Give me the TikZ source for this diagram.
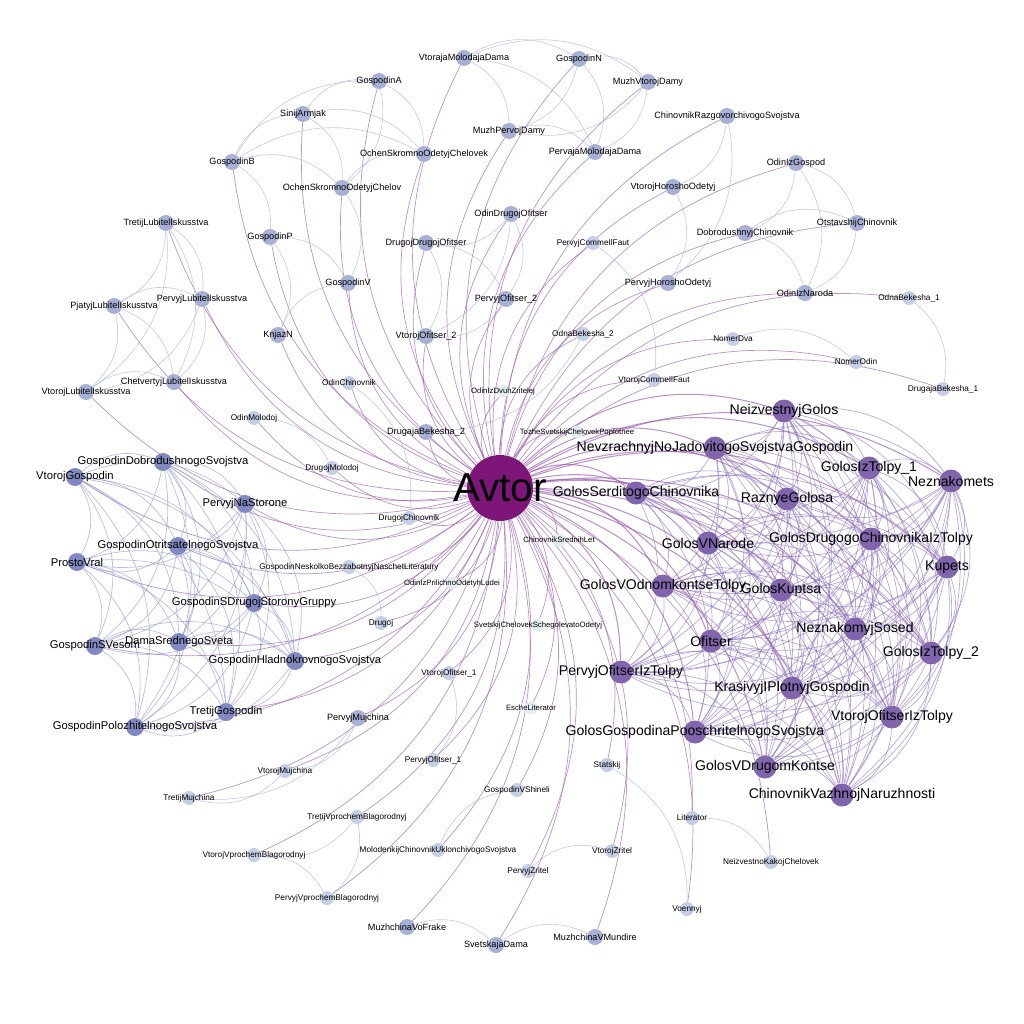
\documentclass[tikz,border=0pt]{standalone}
\usepackage{fontspec}
\setmainfont{Liberation Sans}
\usetikzlibrary{backgrounds}

\definecolor{avtorc}{RGB}{126,22,122}
\definecolor{purplec}{RGB}{128,101,172}
\definecolor{bluec}{RGB}{129,137,192}
\definecolor{mediumc}{RGB}{168,176,213}
\definecolor{lightc}{RGB}{198,206,230}
\definecolor{palec}{RGB}{226,237,242}
\definecolor{avedgec}{RGB}{150,90,168}
\definecolor{puedgec}{RGB}{140,112,186}
\definecolor{bledgec}{RGB}{128,138,198}
\definecolor{ltedgec}{RGB}{170,178,220}

\newcommand\purplegroup{ngol,nevz,gtI,nezn,gsch,razn,gvn,gdch,kup,gvo,gkup,nsos,ofi,gtII,poit,kpg,voit,ggps,gvdk,cvn}
\newcommand\bluegroup{vgos,gdob,pns,gotr,pvral,gsdr,gsv,dss,ghl,tgos,gpol}

\begin{document}
\begin{tikzpicture}[x=0.02cm, y=-0.02cm,
    dot/.style={circle, draw=none, inner sep=0pt},
    txt/.style={inner sep=0pt, text=black},
    av/.style={dot, fill=avtorc, minimum size=1.32cm,
               label={[txt, font=\fontsize{23}{23}\selectfont]center:#1}},
    pu/.style={dot, fill=purplec, minimum size=0.46cm,
               label={[txt, font=\fontsize{8}{8}\selectfont]center:#1}},
    bl/.style={dot, fill=bluec, minimum size=0.36cm,
               label={[txt, font=\fontsize{6.4}{6.4}\selectfont]center:#1}},
    md/.style={dot, fill=mediumc, minimum size=0.32cm,
               label={[txt, font=\fontsize{5.2}{5.2}\selectfont]center:#1}},
    lt/.style={dot, fill=lightc, minimum size=0.28cm,
               label={[txt, font=\fontsize{4.7}{4.7}\selectfont]center:#1}},
    pl/.style={dot, fill=palec, minimum size=0.26cm,
               label={[txt, font=\fontsize{4.4}{4.4}\selectfont]center:#1}},
    avedge/.style={draw=avedgec, line width=0.4pt, opacity=0.65},
    puedge/.style={draw=puedgec, line width=0.4pt, opacity=0.6},
    bledge/.style={draw=bledgec, line width=0.4pt, opacity=0.55},
    ltedge/.style={draw=ltedgec, line width=0.35pt, opacity=0.7}
]
    \useasboundingbox (0,0) rectangle (1024,1024);

    % Upper left
    \node[md=SinijArmjak] (sarm) at (303,114) {};
    \node[md=GospodinB] (gb) at (232,162) {};
    \node[md=OchenSkromnoOdetyjChelov] (ochA) at (342,188) {};
    \node[md=GospodinA] (ga) at (379,81) {};
    \node[md=OchenSkromnoOdetyjChelovek] (ochB) at (424,154) {};
    \node[md=GospodinP] (gp) at (270,237) {};
    \node[md=GospodinV] (gv) at (348,283) {};
    \node[md=KnjazN] (knj) at (278,335) {};
    \node[md=TretijLubitelIskusstva] (tli) at (166,223) {};
    \node[md=PjatyjLubitelIskusstva] (pjli) at (114,306) {};
    \node[md=PervyjLubitelIskusstva] (pli) at (202,299) {};
    \node[md=VtorojLubitelIskusstva] (vli) at (86,392) {};
    \node[md=ChetvertyjLubitelIskusstva] (cli) at (174,382) {};

    % Top
    \node[md=VtorajaMolodajaDama] (vmd) at (464,58) {};
    \node[md=GospodinN] (gn) at (579,59) {};
    \node[md=MuzhVtorojDamy] (mvd) at (648,82) {};
    \node[md=MuzhPervojDamy] (mpd) at (509,131) {};
    \node[md=PervajaMolodajaDama] (pmd) at (595,152) {};
    \node[md=OdinDrugojOfitser] (odo) at (511,214) {};
    \node[md=DrugojDrugojOfitser] (ddo) at (426,243) {};
    \node[md=PervyjOfitser\_2] (poII) at (506,299) {};
    \node[md=VtorojOfitser\_2] (voII) at (426,336) {};
    \node[lt=PervyjCommeIlFaut] (pcf) at (593,243) {};
    \node[lt=OdnaBekesha\_2] (obII) at (583,334) {};

    % Upper right
    \node[md=ChinovnikRazgovorchivogoSvojstva] (crs) at (727,116) {};
    \node[md=VtorojHoroshoOdetyj] (vho) at (673,187) {};
    \node[md=PervyjHoroshoOdetyj] (pho) at (668,283) {};
    \node[md=OdinIzGospod] (oig) at (796,163) {};
    \node[md=DobrodushnyjChinovnik] (dch) at (745,233) {};
    \node[md=OtstavshijChinovnik] (och) at (857,223) {};
    \node[md=OdinIzNaroda] (oin) at (805,293) {};
    \node[lt=OdnaBekesha\_1] (obI) at (909,298) {};
    \node[lt=NomerDva] (ndva) at (733,339) {};
    \node[lt=NomerOdin] (nodin) at (856,362) {};
    \node[lt=DrugajaBekesha\_1] (dbI) at (943,389) {};
    \node[lt=VtorojCommeIlFaut] (vcf) at (654,380) {};

    % Around the centre
    \node[lt=OdinChinovnik] (odch) at (349,383) {};
    \node[lt=OdinMolodoj] (omol) at (254,418) {};
    \node[lt=DrugojMolodoj] (dmol) at (332,468) {};
    \node[md=DrugajaBekesha\_2] (dbII) at (426,432) {};
    \node[lt=DrugojChinovnik] (drch) at (409,518) {};
    \node[lt=GospodinNeskolkoBezzabotnyjNaschetLiteratury] (gnb) at (349,567) {};
    \node[lt=Drugoj] (drg) at (381,623) {};
    \node[pl=OdinIzDvuhZritelej] (oidz) at (503,391) {};
    \node[pl=TozheSvetskijChelovekPoplotnee] (tsc) at (577,432) {};
    \node[pl=ChinovnikSrednihLet] (csl) at (559,540) {};
    \node[pl=OdinIzPrilichnoOdetyhLudei] (ipol) at (452,583) {};
    \node[pl=SvetskijChelovekSchegolevatoOdetyj] (ssch) at (538,625) {};
    \node[pl=EscheLiterator] (eslit) at (531,708) {};

    % Left group
    \node[bl=VtorojGospodin] (vgos) at (75,477) {};
    \node[bl=GospodinDobrodushnogoSvojstva] (gdob) at (163,462) {};
    \node[bl=PervyjNaStorone] (pns) at (245,504) {};
    \node[bl=GospodinOtritsatelnogoSvojstva] (gotr) at (178,546) {};
    \node[bl=ProstoVral] (pvral) at (77,562) {};
    \node[bl=GospodinSDrugojStoronyGruppy] (gsdr) at (254,603) {};
    \node[bl=GospodinSVesom] (gsv) at (95,646) {};
    \node[bl=DamaSrednegoSveta] (dss) at (179,642) {};
    \node[bl=GospodinHladnokrovnogoSvojstva] (ghl) at (295,661) {};
    \node[bl=TretijGospodin] (tgos) at (226,712) {};
    \node[bl=GospodinPolozhitelnogoSvojstva] (gpol) at (135,727) {};

    % Bottom
    \node[lt=VtorojOfitser\_1] (voI) at (449,673) {};
    \node[md=PervyjMujchina] (pmu) at (358,718) {};
    \node[lt=PervyjOfitser\_1] (poI) at (433,760) {};
    \node[lt=VtorojMujchina] (vmu) at (285,771) {};
    \node[lt=TretijMujchina] (tmu) at (189,798) {};
    \node[lt=TretijVprochemBlagorodnyj] (tvb) at (357,817) {};
    \node[lt=VtorojVprochemBlagorodnyj] (vvb) at (254,855) {};
    \node[lt=PervyjVprochemBlagorodnyj] (pvb) at (327,898) {};
    \node[lt=MolodenkijChinovnikUklonchivogoSvojstva] (mch) at (438,850) {};
    \node[lt=GospodinVShineli] (gvs) at (517,790) {};
    \node[md=MuzhchinaVoFrake] (mvf) at (407,927) {};
    \node[md=SvetskajaDama] (sd) at (496,945) {};
    \node[md=MuzhchinaVMundire] (mvm) at (595,937) {};
    \node[lt=PervyjZritel] (pz) at (528,871) {};
    \node[lt=VtorojZritel] (vz) at (612,851) {};
    \node[lt=Statskij] (stat) at (607,765) {};
    \node[lt=Literator] (lit) at (692,818) {};
    \node[lt=Voennyj] (voen) at (687,909) {};
    \node[lt=NeizvestnoKakojChelovek] (nkc) at (771,862) {};

    % Right group
    \node[pu=NeizvestnyjGolos] (ngol) at (784,411) {};
    \node[pu=NevzrachnyjNoJadovitogoSvojstvaGospodin] (nevz) at (715,448) {};
    \node[pu=GolosIzTolpy\_1] (gtI) at (869,468) {};
    \node[pu=Neznakomets] (nezn) at (951,481) {};
    \node[pu=GolosSerditogoChinovnika] (gsch) at (636,493) {};
    \node[pu=RaznyeGolosa] (razn) at (787,499) {};
    \node[pu=GolosVNarode] (gvn) at (708,543) {};
    \node[pu=GolosDrugogoChinovnikaIzTolpy] (gdch) at (871,539) {};
    \node[pu=Kupets] (kup) at (947,567) {};
    \node[pu=GolosVOdnomkontseTolpy] (gvo) at (663,586) {};
    \node[pu=GolosKuptsa] (gkup) at (781,590) {};
    \node[pu=NeznakomyjSosed] (nsos) at (855,629) {};
    \node[pu=Ofitser] (ofi) at (711,641) {};
    \node[pu=GolosIzTolpy\_2] (gtII) at (931,653) {};
    \node[pu=PervyjOfitserIzTolpy] (poit) at (621,672) {};
    \node[pu=KrasivyjIPlotnyjGospodin] (kpg) at (792,688) {};
    \node[pu=VtorojOfitserIzTolpy] (voit) at (892,717) {};
    \node[pu=GolosGospodinaPooschritelnogoSvojstva] (ggps) at (695,732) {};
    \node[pu=GolosVDrugomKontse] (gvdk) at (765,767) {};
    \node[pu=ChinovnikVazhnojNaruzhnosti] (cvn) at (842,795) {};

    % Centre
    \node[av=Avtor] (avtor) at (500,488) {};

    \begin{scope}[on background layer]
        % Avtor to everybody
        \foreach \n in {sarm,gb,ochA,ga,ochB,gp,gv,knj,tli,pjli,pli,vli,cli,
                        vmd,gn,mvd,mpd,pmd,odo,ddo,poII,voII,pcf,obII,
                        crs,vho,pho,oig,dch,och,oin,obI,ndva,nodin,dbI,vcf,
                        odch,omol,dmol,dbII,drch,gnb,drg,oidz,tsc,csl,ipol,ssch,eslit,
                        voI,pmu,poI,vmu,tmu,tvb,vvb,pvb,mch,gvs,mvf,sd,mvm,
                        pz,vz,stat,lit,voen,nkc}
            \draw[avedge] (avtor) to[bend left=30] (\n);
        \foreach \n in \bluegroup
            \draw[avedge] (avtor) to[bend left=30] (\n);
        \foreach \n in \purplegroup
            \draw[avedge, line width=0.6pt] (avtor) to[bend left=30] (\n);

        % Right group, all pairs
        \foreach \a [count=\i] in \purplegroup {
            \foreach \b [count=\j] in \purplegroup {
                \ifnum\i<\j \draw[puedge] (\a) to[bend left=30] (\b); \fi
            }
        }

        % Left group, all pairs
        \foreach \a [count=\i] in \bluegroup {
            \foreach \b [count=\j] in \bluegroup {
                \ifnum\i<\j \draw[bledge] (\a) to[bend left=30] (\b); \fi
            }
        }

        % Small groups
        \foreach \a/\b in {gb/sarm, gb/ochA, gb/ochB, gb/ga, gb/gp, sarm/ga, sarm/ochA,
                           sarm/ochB, ga/ochB, ga/ochA, ochA/ochB, gp/knj, gp/gv, knj/gv, ochA/gv,
                           vmd/gn, vmd/mvd, vmd/mpd, vmd/pmd, gn/mvd, gn/mpd, gn/pmd,
                           mvd/mpd, mvd/pmd, mpd/pmd,
                           odo/ddo, odo/poII, odo/voII, ddo/poII, ddo/voII, poII/voII,
                           tli/pjli, tli/pli, tli/vli, tli/cli, pjli/pli, pjli/vli, pjli/cli,
                           pli/vli, pli/cli, vli/cli,
                           oig/dch, oig/och, oig/oin, dch/och, dch/oin, och/oin,
                           crs/pho, crs/vho, vho/pho,
                           obI/dbI, ndva/nodin, pcf/vcf, obII/dbII,
                           odch/drch, omol/dmol, gnb/drg, voI/poI,
                           pmu/vmu, vmu/tmu, pmu/tmu, tvb/vvb, tvb/pvb, vvb/pvb,
                           mch/gvs, mvf/sd, sd/mvm, pz/vz, stat/voen, lit/nkc}
            \draw[ltedge] (\a) to[bend left=30] (\b);
    \end{scope}
\end{tikzpicture}
\end{document}
